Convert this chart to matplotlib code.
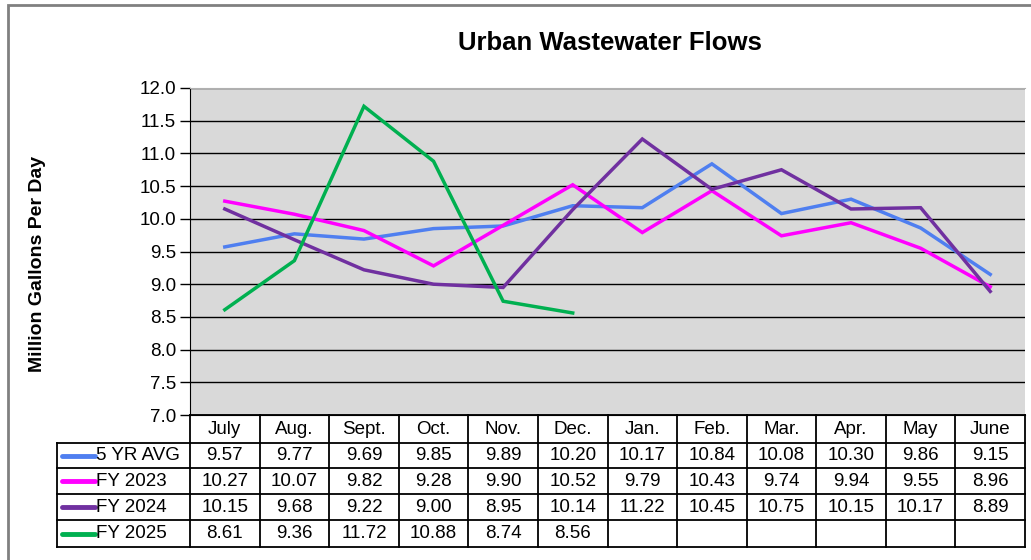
import matplotlib
matplotlib.use("Agg")
import matplotlib.pyplot as plt
from matplotlib.lines import Line2D
from matplotlib.patches import Rectangle
import numpy as np

months = ["July", "Aug.", "Sept.", "Oct.", "Nov.", "Dec.",
          "Jan.", "Feb.", "Mar.", "Apr.", "May", "June"]
avg5 = [9.57, 9.77, 9.69, 9.85, 9.89, 10.20, 10.17, 10.84, 10.08, 10.30, 9.86, 9.15]
fy2023 = [10.27, 10.07, 9.82, 9.28, 9.90, 10.52, 9.79, 10.43, 9.74, 9.94, 9.55, 8.96]
fy2024 = [10.15, 9.68, 9.22, 9.00, 8.95, 10.14, 11.22, 10.45, 10.75, 10.15, 10.17, 8.89]
fy2025 = [8.61, 9.36, 11.72, 10.88, 8.74, 8.56]

SERIES = [
    ("5 YR AVG", avg5, "#4f7ff0"),
    ("FY 2023", fy2023, "#ff00ff"),
    ("FY 2024", fy2024, "#7030a0"),
    ("FY 2025", fy2025, "#00b050"),
]

plt.rcParams["font.family"] = ["Liberation Sans", "DejaVu Sans"]
FS = 13.5

W, H = 1031, 560
fig = plt.figure(figsize=(W / 100, H / 100), dpi=100)

def fx(x):
    return x / W

def fy(y):
    return 1 - y / H

# plot area in pixels
L, R, T, B = 190, 1025, 88, 415
ax = fig.add_axes([fx(L), fy(B), fx(R) - fx(L), fy(T) - fy(B)])
ax.set_facecolor("#d9d9d9")

n = len(months)
for name, vals, col in SERIES:
    x = np.arange(len(vals)) + 0.5
    ax.plot(x, vals, color=col, linewidth=2.5, solid_joinstyle="miter")

ax.set_xlim(0, n)
ax.set_ylim(7.0, 12.0)
ticks = np.arange(7.0, 12.01, 0.5)
ax.set_yticks(ticks)
ax.set_yticklabels([f"{v:.1f}" for v in ticks], fontsize=FS)
ax.yaxis.grid(True, color="black", linewidth=1)
ax.set_axisbelow(True)
ax.set_xticks([])
ax.tick_params(axis="y", direction="out", length=7, width=1, color="black", pad=3)
ax.spines["top"].set_color("#b0b0b0")
ax.spines["right"].set_visible(False)
ax.spines["left"].set_color("black")
ax.spines["bottom"].set_color("black")

# outer border
fig.patches.append(Rectangle((fx(8), fy(575)), fx(1100) - fx(8), fy(5) - fy(575),
                             transform=fig.transFigure, fill=False,
                             edgecolor="#808080", linewidth=2))

# title and y label
fig.text(fx(610), fy(43), "Urban Wastewater Flows", ha="center", va="center",
         fontsize=18.5, fontweight="bold")
fig.text(fx(38), fy(264), "Million Gallons Per Day", ha="center", va="center",
         rotation=90, fontsize=14, fontweight="bold")

# data table
colw = (R - L) / n
leg_left = 57
rows_y = [415, 443, 468, 494, 520, 547]

def hline(x0, x1, y):
    fig.add_artist(Line2D([fx(x0), fx(x1)], [fy(y), fy(y)], color="black",
                          linewidth=1.3, transform=fig.transFigure))

def vline(x, y0, y1):
    fig.add_artist(Line2D([fx(x), fx(x)], [fy(y0), fy(y1)], color="black",
                          linewidth=1.3, transform=fig.transFigure))

hline(L, R, rows_y[0])
for y in rows_y[1:]:
    hline(leg_left, R, y)
for i in range(n + 1):
    vline(L + i * colw, rows_y[0], rows_y[-1])
vline(leg_left, rows_y[1], rows_y[-1])

for i, m in enumerate(months):
    fig.text(fx(L + (i + 0.5) * colw), fy((rows_y[0] + rows_y[1]) / 2), m,
             ha="center", va="center", fontsize=FS)

for r, (name, vals, col) in enumerate(SERIES):
    yc = (rows_y[r + 1] + rows_y[r + 2]) / 2
    fig.add_artist(Line2D([fx(62), fx(95)], [fy(yc), fy(yc)], color=col,
                          linewidth=3.5, solid_capstyle="round",
                          transform=fig.transFigure))
    fig.text(fx(96), fy(yc), name, ha="left", va="center", fontsize=FS)
    for i, v in enumerate(vals):
        fig.text(fx(L + (i + 0.5) * colw), fy(yc), f"{v:.2f}",
                 ha="center", va="center", fontsize=FS)

fig.savefig("out.png", dpi=100, facecolor="white")
